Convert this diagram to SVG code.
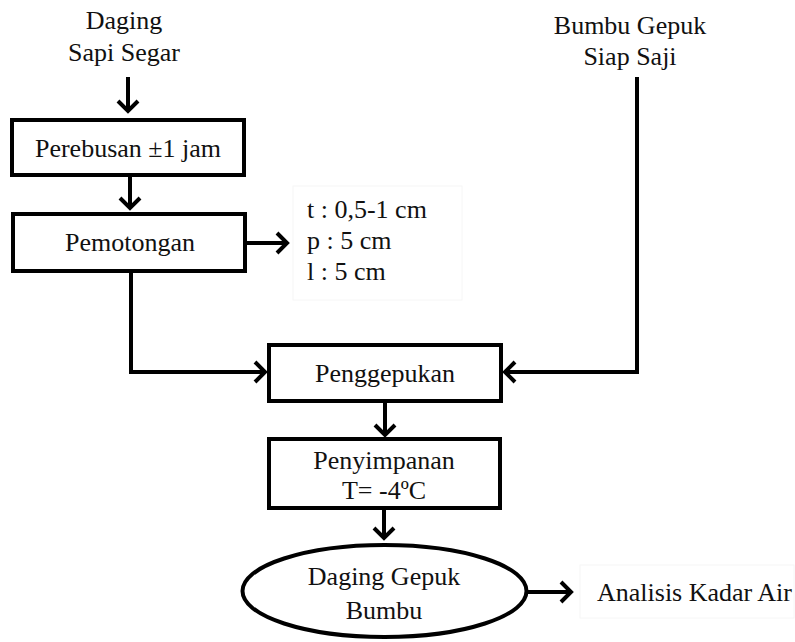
<svg xmlns="http://www.w3.org/2000/svg" width="795" height="642" viewBox="0 0 795 642" font-family="'Liberation Serif', 'Times New Roman', Times, serif">
<style>
text{font-family:'Liberation Serif','Times New Roman',Times,serif;font-size:26px;fill:#111;}
.c{text-anchor:middle;}
.box{fill:#fff;stroke:#000;stroke-width:4;}
.ln{fill:none;stroke:#000;stroke-width:4;stroke-linejoin:miter;}
.faint{fill:#fff;stroke:#f6f6f6;stroke-width:1;}
</style>
<defs>
<marker id="ah" markerUnits="userSpaceOnUse" markerWidth="30" markerHeight="30" refX="0" refY="0" viewBox="-15 -15 30 30" orient="auto" overflow="visible">
<path d="M-10,-10 L0,0 L-10,10" fill="none" stroke="#000" stroke-width="4"/>
</marker>
</defs>
<rect width="795" height="642" fill="#fff"/>
<g id="connectors">
<line class="ln" x1="128" y1="77" x2="128" y2="111" marker-end="url(#ah)"/>
<line class="ln" x1="130" y1="175" x2="130" y2="208" marker-end="url(#ah)"/>
<line class="ln" x1="245" y1="243" x2="287" y2="243" marker-end="url(#ah)"/>
<path class="ln" d="M131,271 L131,372 L265,372" marker-end="url(#ah)"/>
<path class="ln" d="M637,77 L637,372 L505,372" marker-end="url(#ah)"/>
<line class="ln" x1="385" y1="401" x2="385" y2="435" marker-end="url(#ah)"/>
<line class="ln" x1="384" y1="508" x2="384" y2="538" marker-end="url(#ah)"/>
<line class="ln" x1="527" y1="592" x2="571" y2="592" marker-end="url(#ah)"/>
</g>
<g id="daging-sapi">
<text class="c" x="124" y="29">Daging</text>
<text class="c" x="124" y="61">Sapi Segar</text>
</g>
<g id="bumbu-gepuk">
<text class="c" x="630" y="34">Bumbu Gepuk</text>
<text class="c" x="630" y="65">Siap Saji</text>
</g>
<g id="perebusan">
<rect class="box" x="12" y="120" width="232" height="55"/>
<text class="c" x="128" y="157">Perebusan ±1 jam</text>
</g>
<g id="pemotongan">
<rect class="box" x="13" y="214" width="232" height="57"/>
<text class="c" x="130" y="251">Pemotongan</text>
</g>
<g id="ukuran">
<rect class="faint" x="293" y="186" width="169" height="114"/>
<text x="307" y="218">t : 0,5-1 cm</text>
<text x="307" y="249">p : 5 cm</text>
<text x="307" y="280">l : 5 cm</text>
</g>
<g id="penggepukan">
<rect class="box" x="269" y="345" width="232" height="56"/>
<text class="c" x="385" y="382">Penggepukan</text>
</g>
<g id="penyimpanan">
<rect class="box" x="269" y="439" width="231" height="69"/>
<text class="c" x="384" y="469">Penyimpanan</text>
<text class="c" x="384" y="499">T= -4ºC</text>
</g>
<g id="daging-gepuk">
<ellipse class="box" cx="384.5" cy="591" rx="142" ry="46"/>
<text class="c" x="384" y="585">Daging Gepuk</text>
<text class="c" x="384" y="619">Bumbu</text>
</g>
<g id="analisis">
<rect class="faint" x="580" y="565" width="214" height="53"/>
<text x="597" y="601">Analisis Kadar Air</text>
</g>
</svg>
